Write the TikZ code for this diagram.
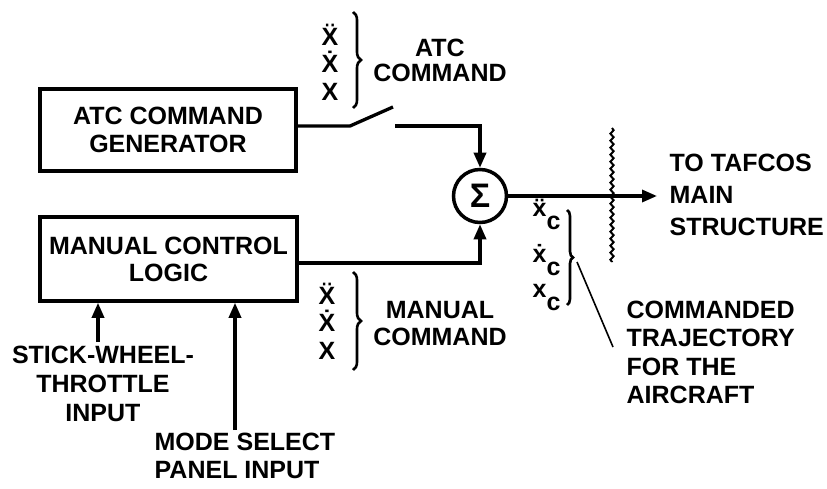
\documentclass[tikz,border=0pt]{standalone}
\usepackage{fontspec}
\setmainfont{Liberation Sans}
\usetikzlibrary{arrows.meta,decorations.pathreplacing,decorations.pathmorphing}
\newcommand\labfont[1]{\fontsize{25}{#1}\selectfont\bfseries}
\begin{document}
\begin{tikzpicture}[x=1pt,y=-1pt,line width=3.3pt,
  lbl/.style={inner sep=0pt,align=center,font=\labfont{28}},
  blk/.style={draw,line width=3.5pt,minimum width=256pt,minimum height=82pt,inner sep=0pt,align=center,font=\labfont{28}},
  arr/.style={-{Triangle[length=15pt,width=12pt]}},
  brc/.style={decorate,decoration={brace,amplitude=8pt},line width=2.6pt}]
\useasboundingbox (0,0) rectangle (827,489);
% blocks
\node[blk] (atc) at (168,130) {ATC COMMAND\\GENERATOR};
\node[blk,minimum width=257pt,minimum height=84pt,font=\labfont{27}] (man) at (168.5,259) {MANUAL CONTROL\\LOGIC};
\node[draw,circle,line width=3.5pt,minimum size=53pt,inner sep=0pt,font=\fontsize{34}{34}\selectfont\bfseries] (sum) at (480,196) {Σ};
% switch and connectors
\coordinate (sw1) at (350,126);
\coordinate (sw2) at (393,107);
\coordinate (sw3) at (395,126);
\draw (atc.east |- sw1) -- (sw1) -- (sw2);
\draw[arr] (sw3) -| (sum.north);
\coordinate (mout) at (297,263);
\draw[arr] (mout) -| (sum.south);
\coordinate (outend) at (657,196);
\draw[arr] (sum.east) -- (outend);
\draw[line width=2pt,decorate,decoration={snake,amplitude=1.6pt,segment length=7pt}] (612,128) -- (612,262);
% labels
\node[lbl,font=\labfont{25}] (atccmd) at (440,60.5) {ATC\\COMMAND};
\node[lbl,font=\labfont{27}] (mancmd) at (440,323.5) {MANUAL\\COMMAND};
\node[lbl,font=\labfont{32},align=left,anchor=west] (tafcos) at (668,195) {TO TAFCOS\\MAIN\\STRUCTURE};
\node[lbl,font=\labfont{28.3},align=left,anchor=west] (traj) at (625,352.5) {COMMANDED\\TRAJECTORY\\FOR THE\\AIRCRAFT};
\node[lbl,font=\labfont{29}] (stick) at (103,384) {STICK-WHEEL-\\THROTTLE\\INPUT};
\node[lbl,font=\labfont{28},align=left,anchor=west] (mode) at (153,456) {MODE SELECT\\PANEL INPUT};
% X stacks and braces
\node[lbl,font=\labfont{27.5},anchor=south] (xatc) at (330,102) {\"X\\\.X\\X};
\node[lbl,font=\labfont{27.5},anchor=south] (xman) at (327,361) {\"X\\\.X\\X};
\draw[brc] (353,12) -- (353,108);
\draw[brc] (353,272) -- (353,370);
\node[lbl,anchor=base west] (xcdd) at (531,217) {\"x\raisebox{-13pt}{c}};
\node[lbl,anchor=base west] (xcd) at (531,262) {\.x\raisebox{-13pt}{c}};
\node[lbl,anchor=base west] (xcp) at (531,297) {x\raisebox{-13pt}{c}};
\draw[brc,decoration={amplitude=6pt}] (567,210) -- (567,305);
\coordinate (brtip) at (577,262);
\coordinate (trajpt) at (613,347);
\draw[line width=1.6pt] (brtip) -- (trajpt);
% input arrows
\coordinate (stickin) at (98,342);
\draw[arr] (stickin) -- (man.south -| stickin);
\coordinate (modein) at (235,430);
\draw[arr] (modein) -- (man.south -| modein);
\end{tikzpicture}
\end{document}
